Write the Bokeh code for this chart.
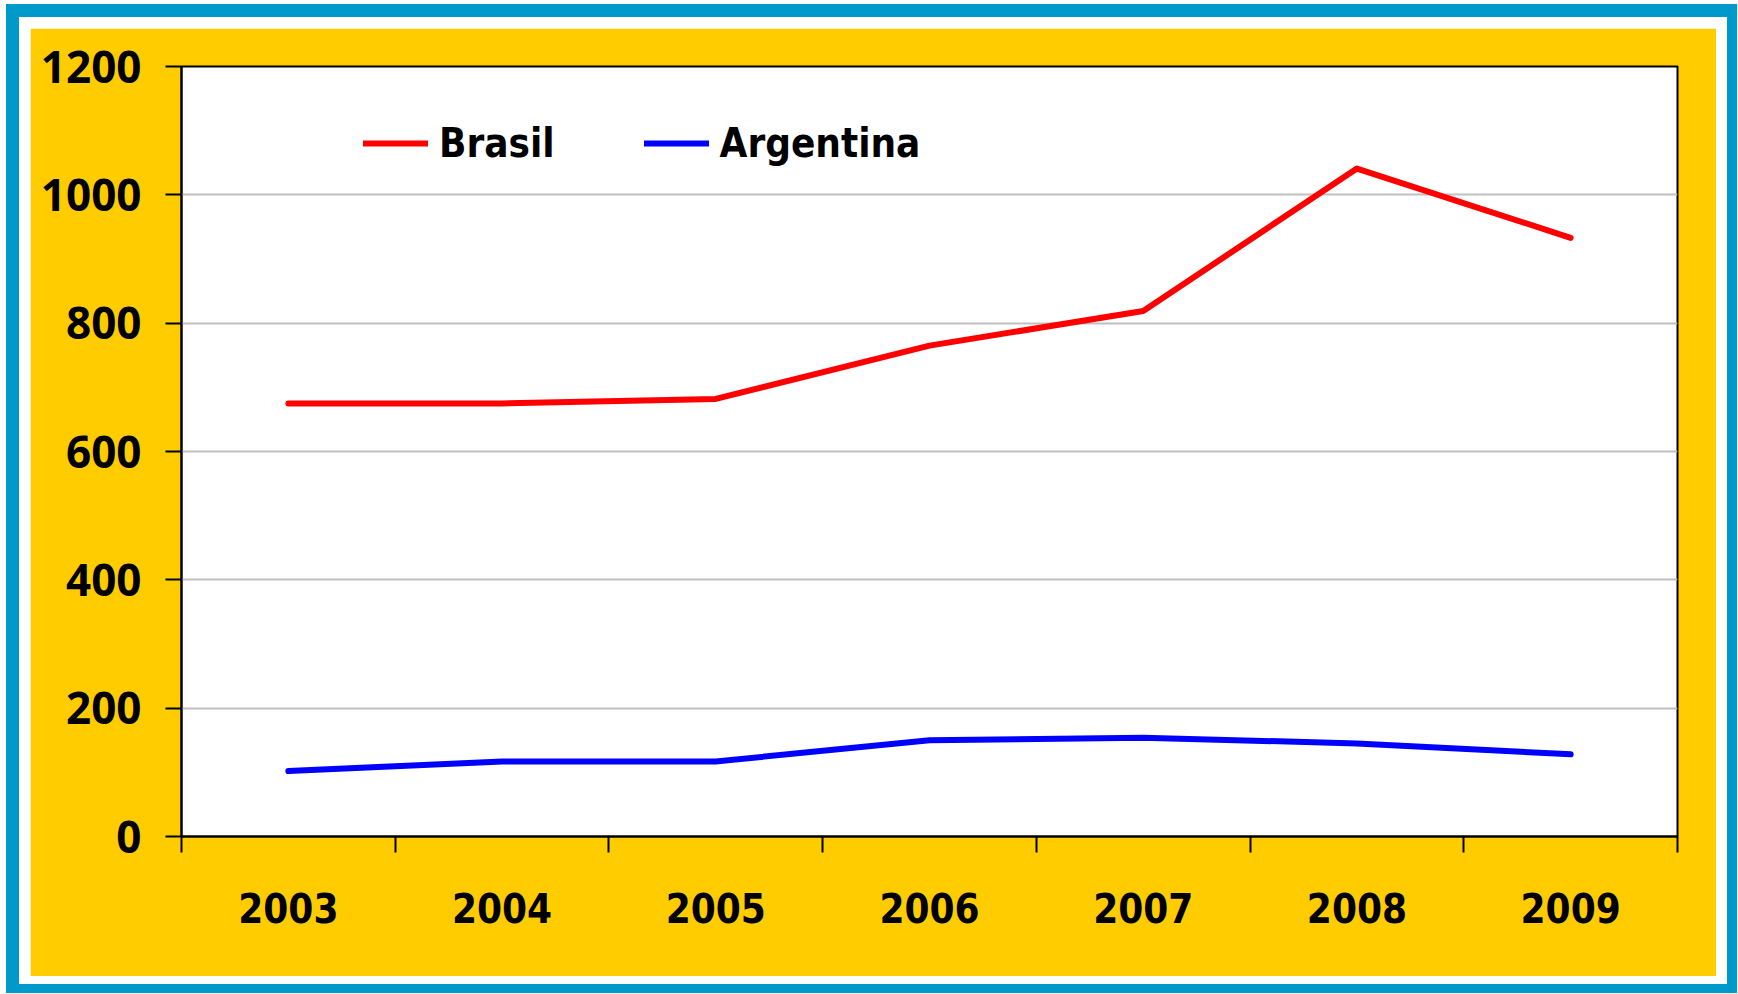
from bokeh.plotting import figure
from bokeh.models import FixedTicker, Legend, LegendItem, Range1d
from bokeh.layouts import column
from bokeh.embed import file_html
from bokeh.resources import INLINE

years = ["2003", "2004", "2005", "2006", "2007", "2008", "2009"]
brasil = [675, 675, 682, 765, 819, 1041, 933]
argentina = [102, 117, 117, 150, 154, 145, 128]
y_ticks = [0, 200, 400, 600, 800, 1000, 1200]

XFONT = "DejaVu Sans Condensed"
YFONT = "Open Sans"

x = [i + 0.5 for i in range(len(years))]
edges = list(range(len(years) + 1))

p = figure(width=1686, height=948, output_backend="svg", toolbar_location=None,
           x_range=Range1d(0, len(years)), y_range=Range1d(0, 1200),
           min_border_left=151, min_border_right=39, min_border_top=38, min_border_bottom=140,
           border_fill_color="#FFCC00", background_fill_color="white",
           outline_line_color="black", outline_line_width=2)

# x axis
xa = p.xaxis[0]
xa.ticker = FixedTicker(ticks=x, minor_ticks=edges)
xa.major_label_overrides = {xi: y for xi, y in zip(x, years)}
xa.major_tick_line_color = None
xa.major_tick_out = 16
xa.major_tick_in = 0
xa.minor_tick_out = 16
xa.minor_tick_in = 0
xa.minor_tick_line_color = "black"
xa.minor_tick_line_width = 2
xa.axis_line_color = "black"
xa.axis_line_width = 2
xa.major_label_standoff = 40
xa.major_label_text_font = XFONT
xa.major_label_text_font_style = "bold"
xa.major_label_text_font_size = "40px"
xa.major_label_text_color = "black"

# y axis
ya = p.yaxis[0]
ya.ticker = FixedTicker(ticks=y_ticks)
ya.major_tick_out = 16
ya.major_tick_in = 0
ya.major_tick_line_width = 2
ya.major_tick_line_color = "black"
ya.minor_tick_line_color = None
ya.axis_line_color = "black"
ya.axis_line_width = 2
ya.major_label_standoff = 24
ya.major_label_text_font = YFONT
ya.major_label_text_font_style = "bold"
ya.major_label_text_font_size = "44px"
ya.major_label_text_color = "black"

p.xgrid.grid_line_color = None
p.ygrid.ticker = FixedTicker(ticks=y_ticks)
p.ygrid.grid_line_color = "#C0C0C0"
p.ygrid.grid_line_width = 2

r1 = p.line(x, brasil, line_color="#FF0000", line_width=6, line_join="round", line_cap="round")
r2 = p.line(x, argentina, line_color="#0000FF", line_width=6, line_join="round", line_cap="round")

legend = Legend(items=[LegendItem(label="Brasil", renderers=[r1]),
                       LegendItem(label="Argentina", renderers=[r2])],
                orientation="horizontal", location=(182, 670),
                glyph_width=65, glyph_height=40, label_standoff=11, spacing=89,
                padding=0, margin=0, border_line_color=None, background_fill_alpha=0,
                label_text_font=XFONT, label_text_font_style="bold",
                label_text_font_size="40px", label_text_color="black")
p.add_layout(legend)

page = column(p, styles={"margin": "4px 0px 0px 6px",
                         "border-style": "solid", "border-color": "#0099CC",
                         "border-width": "13px 10px 9px 13px",
                         "padding": "11px 11px 8px 11px",
                         "background-color": "white"})

open("out.html", "w").write(file_html(page, INLINE))
